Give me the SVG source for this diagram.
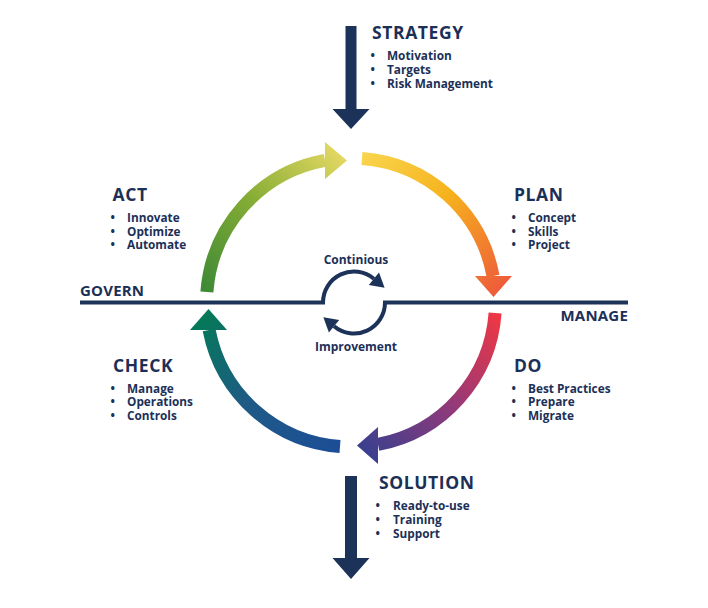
<svg xmlns="http://www.w3.org/2000/svg" width="708" height="608" viewBox="0 0 708 608">
<style>
  text { font-family: "Open Sans", "Noto Sans", "Liberation Sans", sans-serif; font-weight: 700; fill: #1c3057; }
  .title { font-size: 17.5px; letter-spacing: 0.6px; }
  .item { font-size: 11.8px; }
  .axis { font-size: 15px; letter-spacing: 0.2px; }
  .cap { font-size: 12px; }
  .arc { fill: none; stroke-width: 13; }
  .navy { fill: #1c3259; }
  .line { fill: none; stroke: #1c3259; stroke-width: 4; }
</style>
<defs>
  <linearGradient id="gAct" gradientUnits="userSpaceOnUse" x1="207" y1="292" x2="347" y2="160">
    <stop offset="0" stop-color="#3f8a36"/>
    <stop offset="0.5" stop-color="#86ad35"/>
    <stop offset="1" stop-color="#e3d863"/>
  </linearGradient>
  <linearGradient id="gPlan" gradientUnits="userSpaceOnUse" x1="362" y1="158" x2="494" y2="297">
    <stop offset="0" stop-color="#f9d44c"/>
    <stop offset="0.45" stop-color="#f6b21d"/>
    <stop offset="1" stop-color="#ee5b3a"/>
  </linearGradient>
  <linearGradient id="gDo" gradientUnits="userSpaceOnUse" x1="495" y1="313" x2="357" y2="447">
    <stop offset="0" stop-color="#ee3744"/>
    <stop offset="0.5" stop-color="#92397a"/>
    <stop offset="1" stop-color="#37408f"/>
  </linearGradient>
  <linearGradient id="gCheck" gradientUnits="userSpaceOnUse" x1="340" y1="447" x2="208" y2="309">
    <stop offset="0" stop-color="#1b4e96"/>
    <stop offset="0.5" stop-color="#1f5a86"/>
    <stop offset="1" stop-color="#047a57"/>
  </linearGradient>
</defs>
<rect width="708" height="608" fill="#ffffff"/>

<g id="connectors">
  <!-- cycle arcs -->
  <path class="arc" stroke="url(#gAct)" d="M206.9,292 A144.5,144.5 0 0 1 325,160.4"/>
  <polygon fill="url(#gAct)" points="325,142 347,160.5 325,179"/>
  <path class="arc" stroke="url(#gPlan)" d="M362,158.4 A144.5,144.5 0 0 1 493.05,276"/>
  <polygon fill="url(#gPlan)" points="475,276 512,276 493.5,297"/>
  <path class="arc" stroke="url(#gDo)" d="M495.1,313 A144.5,144.5 0 0 1 378,444.45"/>
  <polygon fill="url(#gDo)" points="378,427 378,464 357,445.5"/>
  <path class="arc" stroke="url(#gCheck)" d="M340,446.6 A144.5,144.5 0 0 1 209.1,330"/>
  <polygon fill="url(#gCheck)" points="190,330 227,330 208.5,309"/>
  <!-- strategy / solution down arrows -->
  <polygon class="navy" points="345.5,26 356.5,26 356.5,109 369.5,109 351,129 332.5,109 345.5,109"/>
  <polygon class="navy" points="345,476 357,476 357,558 369.5,558 351,579 332.5,558 345,558"/>
  <!-- govern / manage line with continuous improvement loop -->
  <path class="line" d="M80,302.5 H323 A31,31 0 0 1 373.9,278.75"/>
  <polygon class="navy" points="379,272.6 384.6,287.75 368.8,284.9"/>
  <path class="line" d="M628,302.5 H385 A31,31 0 0 1 334.07,326.25"/>
  <polygon class="navy" points="328.9,332.4 323.35,317.25 339.2,320.1"/>
</g>

<g id="node-strategy">
  <text class="title" x="372" y="39">STRATEGY</text>
  <text class="item" y="60"><tspan x="370.5">•</tspan><tspan x="387">Motivation</tspan></text>
  <text class="item" y="74"><tspan x="370.5">•</tspan><tspan x="387">Targets</tspan></text>
  <text class="item" y="88"><tspan x="370.5">•</tspan><tspan x="387">Risk Management</tspan></text>
</g>

<g id="node-act">
  <text class="title" x="112.5" y="201">ACT</text>
  <text class="item" y="222"><tspan x="110.5">•</tspan><tspan x="127">Innovate</tspan></text>
  <text class="item" y="235.7"><tspan x="110.5">•</tspan><tspan x="127">Optimize</tspan></text>
  <text class="item" y="249.4"><tspan x="110.5">•</tspan><tspan x="127">Automate</tspan></text>
</g>

<g id="node-plan">
  <text class="title" x="514" y="201">PLAN</text>
  <text class="item" y="222"><tspan x="511.5">•</tspan><tspan x="528">Concept</tspan></text>
  <text class="item" y="235.7"><tspan x="511.5">•</tspan><tspan x="528">Skills</tspan></text>
  <text class="item" y="249.4"><tspan x="511.5">•</tspan><tspan x="528">Project</tspan></text>
</g>

<g id="node-center">
  <text class="cap" x="356" y="264" text-anchor="middle">Continious</text>
  <text class="cap" x="356" y="351" text-anchor="middle">Improvement</text>
</g>

<g id="node-govern">
  <text class="axis" x="80" y="296">GOVERN</text>
</g>

<g id="node-manage">
  <text class="axis" x="628" y="321" text-anchor="end">MANAGE</text>
</g>

<g id="node-check">
  <text class="title" x="113" y="371.5">CHECK</text>
  <text class="item" y="392.5"><tspan x="110.5">•</tspan><tspan x="127">Manage</tspan></text>
  <text class="item" y="406"><tspan x="110.5">•</tspan><tspan x="127">Operations</tspan></text>
  <text class="item" y="419.5"><tspan x="110.5">•</tspan><tspan x="127">Controls</tspan></text>
</g>

<g id="node-do">
  <text class="title" x="514" y="371.5">DO</text>
  <text class="item" y="392.5"><tspan x="511.5">•</tspan><tspan x="528">Best Practices</tspan></text>
  <text class="item" y="406"><tspan x="511.5">•</tspan><tspan x="528">Prepare</tspan></text>
  <text class="item" y="419.5"><tspan x="511.5">•</tspan><tspan x="528">Migrate</tspan></text>
</g>

<g id="node-solution">
  <text class="title" x="379" y="489">SOLUTION</text>
  <text class="item" y="510"><tspan x="375.5">•</tspan><tspan x="393">Ready-to-use</tspan></text>
  <text class="item" y="524"><tspan x="375.5">•</tspan><tspan x="393">Training</tspan></text>
  <text class="item" y="537.5"><tspan x="375.5">•</tspan><tspan x="393">Support</tspan></text>
</g>
</svg>
